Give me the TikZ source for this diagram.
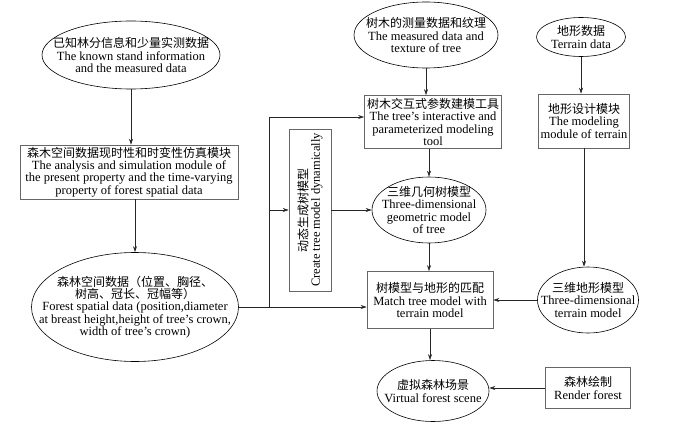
\documentclass[tikz,border=0pt]{standalone}
\usepackage{fontspec}
\setmainfont{Liberation Serif}
\newfontfamily\cjk[Scale=0.96]{Noto Sans CJK SC}
\usetikzlibrary{shapes.geometric,arrows.meta}
\tikzset{every picture/.style={line width=0.6pt}}
\tikzset{
  ell/.style={draw, ellipse, inner sep=0pt},
  boxnode/.style={draw=black!60, rectangle, inner sep=0pt},
  txt/.style={align=center, inner sep=0pt, font=\fontsize{12.5}{12.4}\selectfont},
  arr/.style={draw=black!85, -{Stealth[length=6pt,width=4pt]}},
}

\begin{document}
\begin{tikzpicture}[x=1pt,y=1pt,yscale=-1,xscale=1]
%set diagram left start at 0, and has height of 433
\useasboundingbox (0,0) rectangle (684,433);

%Shape: Ellipse [known stand data]
\node[ell, minimum width=178pt, minimum height=68pt, label={[txt]center:{{\cjk 已知林分信息和少量实测数据}\\The known stand information\\and the measured data}}] (known) at (131,55) {};
%Shape: Rectangle [analysis module]
\node[boxnode, minimum width=218pt, minimum height=54pt, label={[txt]center:{{\cjk 森木空间数据现时性和时变性仿真模块}\\The analysis and simulation module of\\the present property and the time-varying\\property of forest spatial data}}] (analysis) at (129,172) {};
%Shape: Ellipse [forest spatial data]
\node[ell, minimum width=207pt, minimum height=109pt, label={[txt]center:{{\cjk 森林空间数据（位置、胸径、}\\{\cjk 树高、冠长、冠幅等）}\\Forest spatial data (position,diameter\\at breast height,height of tree's crown,\\width of tree's crown)}}] (spatial) at (135,307) {};
%Shape: Rectangle [create tree model]
\node[boxnode, minimum width=42pt, minimum height=162pt, label={[txt, rotate=90]center:{{\cjk 动态生成树模型}\\Create tree model dynamically}}] (create) at (310,210) {};
%Shape: Ellipse [measured data]
\node[ell, minimum width=144pt, minimum height=66pt, label={[txt]center:{{\cjk 树木的测量数据和纹理}\\The measured data and\\texture of tree}}] (measured) at (426,35) {};
%Shape: Rectangle [modeling tool]
\node[boxnode, minimum width=137pt, minimum height=53pt, label={[txt]center:{{\cjk 树木交互式参数建模工具}\\The tree's interactive and\\parameterized modeling\\tool}}] (tool) at (433,122) {};
%Shape: Ellipse [geometric model]
\node[ell, minimum width=114pt, minimum height=66pt, label={[txt]center:{{\cjk 三维几何树模型}\\Three-dimensional\\geometric model\\of tree}}] (geom) at (429,210) {};
%Shape: Rectangle [match]
\node[boxnode, minimum width=126pt, minimum height=57pt, label={[txt]center:{{\cjk 树模型与地形的匹配}\\Match tree model with\\terrain model}}] (match) at (430,300) {};
%Shape: Ellipse [virtual scene]
\node[ell, minimum width=112pt, minimum height=61pt, label={[txt]center:{{\cjk 虚拟森林场景}\\Virtual forest scene}}] (virtual) at (433,391) {};
%Shape: Ellipse [terrain data]
\node[ell, minimum width=89pt, minimum height=39pt, label={[txt]center:{{\cjk 地形数据}\\Terrain data}}] (terrain) at (581,37) {};
%Shape: Rectangle [terrain module]
\node[boxnode, minimum width=91pt, minimum height=54pt, label={[txt]center:{{\cjk 地形设计模块}\\The modeling\\module of terrain}}] (module) at (584,121) {};
%Shape: Ellipse [terrain model]
\node[ell, minimum width=101pt, minimum height=66pt, label={[txt]center:{{\cjk 三维地形模型}\\Three-dimensional\\terrain model}}] (terrain3d) at (588,300) {};
%Shape: Rectangle [render]
\node[boxnode, minimum width=85pt, minimum height=41pt, label={[txt]center:{{\cjk 森林绘制}\\Render forest}}] (render) at (588,388) {};

%Corner points
\coordinate (j) at (269,307);
\coordinate (t) at (269,117);
\coordinate (b) at (269,210);

%Straight Lines
\draw[arr] (known.south) -- (known.south |- analysis.north);
\draw[arr] (analysis.south -| spatial.north) -- (spatial.north);
\draw[arr] (spatial.east) -- (spatial.east -| match.west);
\draw[draw=black!85] (j) -- (t);
\draw[arr] (t) -- (t -| tool.west);
\draw[arr] (b) -- (b -| create.west);
\draw[arr] (create.east) -- (create.east -| geom.west);
\draw[arr] (measured.south) -- (measured.south |- tool.north);
\draw[arr] (tool.south -| geom.north) -- (geom.north);
\draw[arr] (geom.south) -- (geom.south |- match.north);
\draw[arr] (match.south) -- (match.south |- virtual.north);
\draw[arr] (terrain.south) -- (terrain.south |- module.north);
\draw[arr] (module.south) -- (module.south |- terrain3d.north);
\draw[arr] (terrain3d.west) -- (terrain3d.west -| match.east);
\draw[arr] (render.west) -- (render.west -| virtual.east);

\end{tikzpicture}
\end{document}
